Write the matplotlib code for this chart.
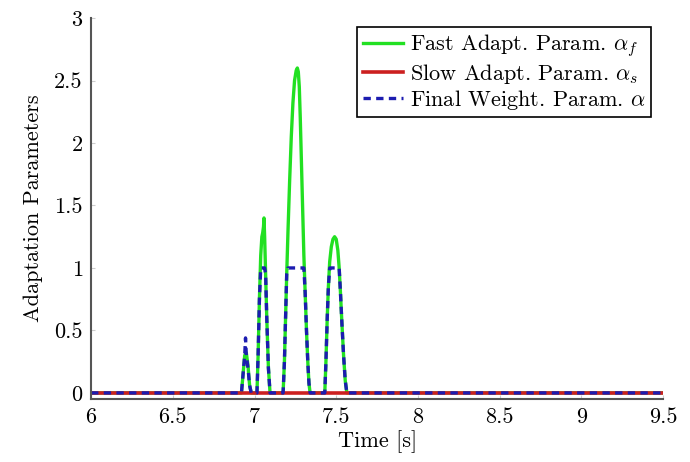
import numpy as np
import matplotlib.pyplot as plt

plt.rcParams['font.family'] = ['cmr10', 'DejaVu Serif']
plt.rcParams['mathtext.fontset'] = 'cm'
plt.rcParams['axes.formatter.use_mathtext'] = True

# Time samples [s]
t = [6.0, 6.92, 6.93, 6.94, 6.945, 6.95, 6.96, 6.97, 6.98,
     7.015, 7.022, 7.03, 7.038, 7.045, 7.05, 7.055, 7.058, 7.062, 7.068, 7.075, 7.085, 7.095,
     7.175, 7.183, 7.19, 7.197, 7.205, 7.215, 7.225, 7.235, 7.245, 7.255, 7.262, 7.268, 7.274,
     7.28, 7.287, 7.295, 7.302, 7.31, 7.318, 7.326, 7.333, 7.34,
     7.43, 7.437, 7.445, 7.452, 7.46, 7.47, 7.48, 7.49, 7.5, 7.51, 7.518, 7.526, 7.535,
     7.545, 7.555, 7.565,
     9.5]

# Fast adaptation parameter alpha_f
alpha_f = [0.0, 0.0, 0.15, 0.30, 0.31, 0.32, 0.22, 0.06, 0.0,
           0.0, 0.3, 0.75, 1.1, 1.25, 1.28, 1.33, 1.40, 1.25, 0.95, 0.6, 0.2, 0.0,
           0.0, 0.25, 0.6, 0.95, 1.3, 1.7, 2.05, 2.32, 2.5, 2.58, 2.6, 2.57, 2.45,
           2.2, 1.85, 1.45, 1.1, 0.8, 0.5, 0.25, 0.08, 0.0,
           0.0, 0.25, 0.6, 0.85, 1.05, 1.17, 1.23, 1.25, 1.23, 1.14, 1.0, 0.8, 0.55,
           0.3, 0.1, 0.0,
           0.0]

# Slow adaptation parameter alpha_s
alpha_s = [0.0] * len(t)

# Final weighting parameter alpha
alpha = [0.0, 0.0, 0.15, 0.30, 0.44, 0.30, 0.20, 0.06, 0.0,
         0.0, 0.3, 0.75, 1.0, 1.0, 1.0, 1.0, 1.0, 1.0, 0.95, 0.6, 0.2, 0.0,
         0.0, 0.25, 0.6, 0.95, 1.0, 1.0, 1.0, 1.0, 1.0, 1.0, 1.0, 1.0, 1.0,
         1.0, 1.0, 1.0, 1.0, 0.8, 0.5, 0.25, 0.08, 0.0,
         0.0, 0.25, 0.6, 0.85, 1.0, 1.0, 1.0, 1.0, 1.0, 1.0, 1.0, 0.8, 0.55,
         0.3, 0.1, 0.0,
         0.0]

fig = plt.figure(figsize=(6.9, 4.62), dpi=100)
ax = fig.add_axes([0.132, 0.136, 0.829, 0.825])

ax.plot(t, alpha_f, color='#22e022', lw=2.4, label=r'Fast Adapt. Param. $\alpha_f$')
ax.plot(t, alpha_s, color='#cc2020', lw=2.6, label=r'Slow Adapt. Param. $\alpha_s$')
ax.plot(t, alpha, color='#1c1cb0', lw=2.4, ls=(0, (2.2, 1.6)),
        label=r'Final Weight. Param. $\alpha$')

ax.set_xlim(6, 9.5)
ax.set_ylim(-0.05, 3)
ax.set_xticks([6, 6.5, 7, 7.5, 8, 8.5, 9, 9.5])
ax.set_xticklabels(['6', '6.5', '7', '7.5', '8', '8.5', '9', '9.5'])
ax.set_yticks([0, 0.5, 1, 1.5, 2, 2.5, 3])
ax.set_yticklabels(['0', '0.5', '1', '1.5', '2', '2.5', '3'])
ax.tick_params(labelsize=16, direction='in', length=3, color='#cccccc', pad=6)

for s in ['top', 'right']:
    ax.spines[s].set_visible(False)
for s in ['left', 'bottom']:
    ax.spines[s].set_color('#555555')
    ax.spines[s].set_linewidth(1.5)

ax.set_xlabel('Time [s]', fontsize=16, labelpad=2)
ax.set_ylabel('Adaptation Parameters', fontsize=16, labelpad=8)

leg = ax.legend(loc='upper right', fontsize=16, fancybox=False, framealpha=1,
                edgecolor='black', handlelength=1.8, handletextpad=0.3,
                labelspacing=0.1, borderpad=0.25, bbox_to_anchor=(0.998, 1.006))
leg.get_frame().set_linewidth(1.2)

plt.savefig('out.png', dpi=100)
